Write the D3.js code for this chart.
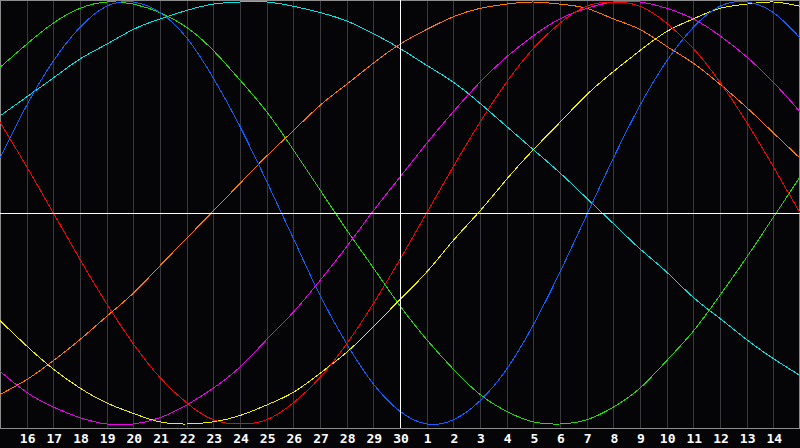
<!doctype html>
<html lang="en">
<head>
<meta charset="UTF-8">
<title>biorhythm</title>
<script src="https://cdn.jsdelivr.net/npm/d3@7/dist/d3.min.js"></script>
<style>
  html, body { margin: 0; padding: 0; background: #050508; }
  svg { display: block; }
</style>
</head>
<body>
<script>
  // day slots 0..30, labels shown for 1..29
  var dayLabels = ["16","17","18","19","20","21","22","23","24","25","26","27","28","29","30",
                   "1","2","3","4","5","6","7","8","9","10","11","12","13","14"];

  // values, one per day slot (-1 .. 1)
  var red     = [0.43,0.22,0.00,-0.22,-0.43,-0.62,-0.78,-0.90,-0.98,-1.00,-0.98,-0.90,-0.78,-0.62,-0.43,-0.22,0.00,0.22,0.43,0.62,0.78,0.90,0.98,1.00,0.98,0.90,0.78,0.62,0.43,0.22,0.00];
  var green   = [0.69,0.80,0.90,0.97,1.00,0.99,0.95,0.88,0.77,0.63,0.48,0.30,0.11,-0.08,-0.26,-0.44,-0.60,-0.74,-0.86,-0.94,-0.99,-1.00,-0.98,-0.92,-0.83,-0.70,-0.56,-0.39,-0.21,-0.02,0.17];
  var blue    = [0.26,0.51,0.72,0.88,0.98,1.00,0.95,0.83,0.64,0.41,0.15,-0.12,-0.39,-0.62,-0.81,-0.94,-1.00,-0.98,-0.89,-0.74,-0.53,-0.28,-0.01,0.26,0.51,0.72,0.88,0.98,1.00,0.95,0.83];
  var cyan    = [0.46,0.55,0.64,0.73,0.80,0.87,0.92,0.96,0.99,1.00,1.00,0.98,0.95,0.91,0.85,0.78,0.70,0.62,0.52,0.41,0.30,0.19,0.07,-0.05,-0.17,-0.28,-0.40,-0.50,-0.60,-0.69,-0.77];
  var orange  = [-0.86,-0.79,-0.70,-0.60,-0.49,-0.38,-0.25,-0.12,0.01,0.14,0.27,0.39,0.51,0.61,0.71,0.80,0.87,0.93,0.97,0.99,1.00,0.99,0.97,0.92,0.87,0.79,0.71,0.61,0.50,0.38,0.26];
  var magenta = [-0.75,-0.85,-0.92,-0.97,-1.00,-1.00,-0.97,-0.91,-0.83,-0.73,-0.60,-0.47,-0.32,-0.16,0.01,0.17,0.33,0.48,0.62,0.74,0.84,0.92,0.97,1.00,1.00,0.97,0.92,0.84,0.74,0.62,0.48];
  var yellow  = [-0.51,-0.63,-0.74,-0.83,-0.90,-0.95,-0.99,-1.00,-0.99,-0.96,-0.91,-0.85,-0.76,-0.66,-0.54,-0.41,-0.28,-0.13,0.01,0.16,0.30,0.43,0.56,0.67,0.77,0.86,0.92,0.97,0.99,1.00,0.98];

  var series = [
    {name: "cyan",    values: cyan,    color: "#00e6e6"},
    {name: "orange",  values: orange,  color: "#ff7a00"},
    {name: "green",   values: green,   color: "#22dd00"},
    {name: "magenta", values: magenta, color: "#f000f0"},
    {name: "yellow",  values: yellow,  color: "#f0f000"},
    {name: "red",     values: red,     color: "#ff0000"},
    {name: "blue",    values: blue,    color: "#0a64ff"}
  ];

  var width = 800, height = 448;
  var plotBottom = 428;

  var svg = d3.select("body").append("svg")
      .attr("width", width)
      .attr("height", height);

  svg.append("rect").attr("width", width).attr("height", height).attr("fill", "#050508");

  var x = d3.scaleLinear().domain([0, 30]).range([0, 800]);
  var y = d3.scaleLinear().domain([-1, 1]).range([424, 2]);

  // day gridlines
  svg.append("g").selectAll("line")
      .data(d3.range(1, 30))
      .enter().append("line")
      .attr("x1", function(d) { return Math.round(x(d)) + 0.5; })
      .attr("x2", function(d) { return Math.round(x(d)) + 0.5; })
      .attr("y1", 0)
      .attr("y2", plotBottom)
      .attr("stroke", "#3a3a3e")
      .attr("stroke-width", 1);

  // frame
  svg.append("rect")
      .attr("x", 0.5).attr("y", 0.5)
      .attr("width", 799).attr("height", plotBottom)
      .attr("fill", "none")
      .attr("stroke", "#8c8c8c")
      .attr("stroke-width", 1);

  var line = d3.line()
      .x(function(d, i) { return x(i); })
      .y(function(d) { return y(d); })
      .curve(d3.curveNatural);

  svg.append("g").selectAll("path")
      .data(series)
      .enter().append("path")
      .attr("d", function(d) { return line(d.values); })
      .attr("fill", "none")
      .attr("stroke", function(d) { return d.color; })
      .attr("stroke-width", 1)
      .attr("shape-rendering", "optimizeSpeed");

  // today / zero lines
  svg.append("line")
      .attr("x1", 0).attr("x2", 800)
      .attr("y1", Math.round(y(0)) + 0.5).attr("y2", Math.round(y(0)) + 0.5)
      .attr("stroke", "#ffffff").attr("stroke-width", 1);
  svg.append("line")
      .attr("x1", Math.round(x(15)) + 0.5).attr("x2", Math.round(x(15)) + 0.5)
      .attr("y1", 0).attr("y2", plotBottom)
      .attr("stroke", "#ffffff").attr("stroke-width", 1);

  // day labels
  svg.append("g").selectAll("text")
      .data(dayLabels)
      .enter().append("text")
      .attr("x", function(d, i) { return x(i + 1) + 1; })
      .attr("y", 443)
      .attr("text-anchor", "middle")
      .attr("fill", "#ffffff")
      .attr("font-family", "DejaVu Sans Mono, monospace")
      .attr("font-weight", "bold")
      .attr("font-size", "13px")
      .text(function(d) { return d; });
</script>
</body>
</html>
